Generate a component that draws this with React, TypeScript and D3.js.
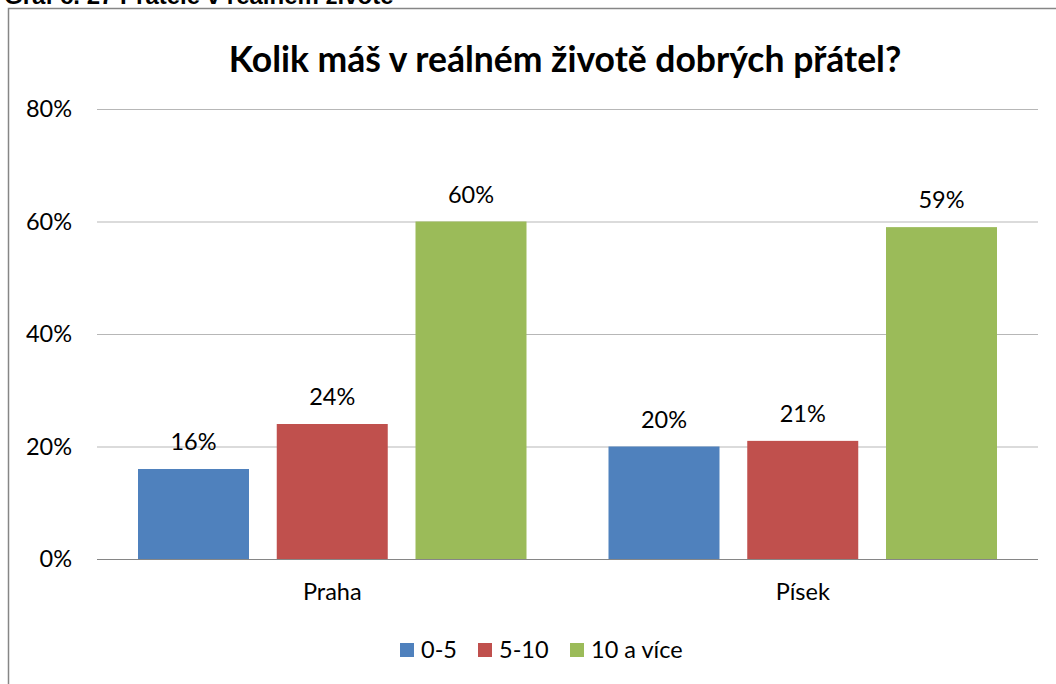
import * as d3 from 'd3';

const categories = ['Praha', 'Písek'];
const seriesNames = ['0-5', '5-10', '10 a více'];
const seriesColors = ['#4f81bd', '#c0504d', '#9bbb59'];
// percentages per series, one value per category
const values05 = [16, 20];
const values510 = [24, 21];
const values10plus = [60, 59];
const yTicks = [0, 20, 40, 60, 80];

const series = [values05, values510, values10plus];

const W = 1056;
const H = 684;
const font = "Lato, 'Noto Sans', sans-serif";
const fs = 23.5;

export default function App() {
  const plot = { left: 97, right: 1038, top: 109, bottom: 559 };

  const y = d3.scaleLinear().domain([0, 80]).range([plot.bottom, plot.top]);
  const x0 = d3.scaleBand().domain(categories).range([plot.left, plot.right]);
  const x1 = d3
    .scaleBand()
    .domain(seriesNames)
    .range([41, x0.bandwidth() - 41])
    .paddingInner(0.2);

  return (
    <svg
      width={W}
      height={H}
      style={{ position: 'absolute', left: 0, top: 0, background: '#fff' }}
    >
      <text
        x={4}
        y={4}
        fontFamily="'Liberation Sans', Arial, sans-serif"
        fontWeight="bold"
        fontSize={24}
        fill="#000"
      >
        Graf č. 27 Přátelé v reálném životě
      </text>
      {/* chart border */}
      <path d={`M8.5,${H} V8.5 H${W}`} fill="none" stroke="#868686" strokeWidth={1.5} />

      <text
        x={565}
        y={72}
        textAnchor="middle"
        fontFamily={font}
        fontWeight="bold"
        fontSize={35.5}
        fill="#000"
      >
        Kolik máš v reálném životě dobrých přátel?
      </text>

      {/* grid + y axis labels */}
      {yTicks.map((t) => (
        <g key={t}>
          <line
            x1={plot.left}
            x2={plot.right}
            y1={y(t) + 0.5}
            y2={y(t) + 0.5}
            stroke={t === 0 ? '#868686' : '#b7b7b7'}
            strokeWidth={1}
          />
          <text
            x={72}
            y={y(t) + 8}
            textAnchor="end"
            fontFamily={font}
            fontSize={fs}
            fill="#000"
          >
            {t}%
          </text>
        </g>
      ))}

      {/* bars */}
      {categories.map((c, ci) => (
        <g key={c} transform={`translate(${x0(c)},0)`}>
          {seriesNames.map((s, si) => {
            const v = series[si][ci];
            const bx = x1(s) ?? 0;
            return (
              <g key={s}>
                <rect
                  x={bx}
                  y={y(v)}
                  width={x1.bandwidth()}
                  height={y(0) - y(v)}
                  fill={seriesColors[si]}
                />
                <text
                  x={bx + x1.bandwidth() / 2}
                  y={y(v) - 19}
                  textAnchor="middle"
                  fontFamily={font}
                  fontSize={fs}
                  fill="#000"
                >
                  {v}%
                </text>
              </g>
            );
          })}
          <text
            x={x0.bandwidth() / 2}
            y={600}
            textAnchor="middle"
            fontFamily={font}
            fontSize={fs}
            fill="#000"
          >
            {c}
          </text>
        </g>
      ))}

      {/* legend */}
      {seriesNames.map((s, i) => {
        const lx = [400, 478, 570][i];
        return (
          <g key={s}>
            <rect x={lx} y={643} width={14} height={14} fill={seriesColors[i]} />
            <text x={lx + 21} y={658} fontFamily={font} fontSize={fs} fill="#000">
              {s}
            </text>
          </g>
        );
      })}
    </svg>
  );
}
